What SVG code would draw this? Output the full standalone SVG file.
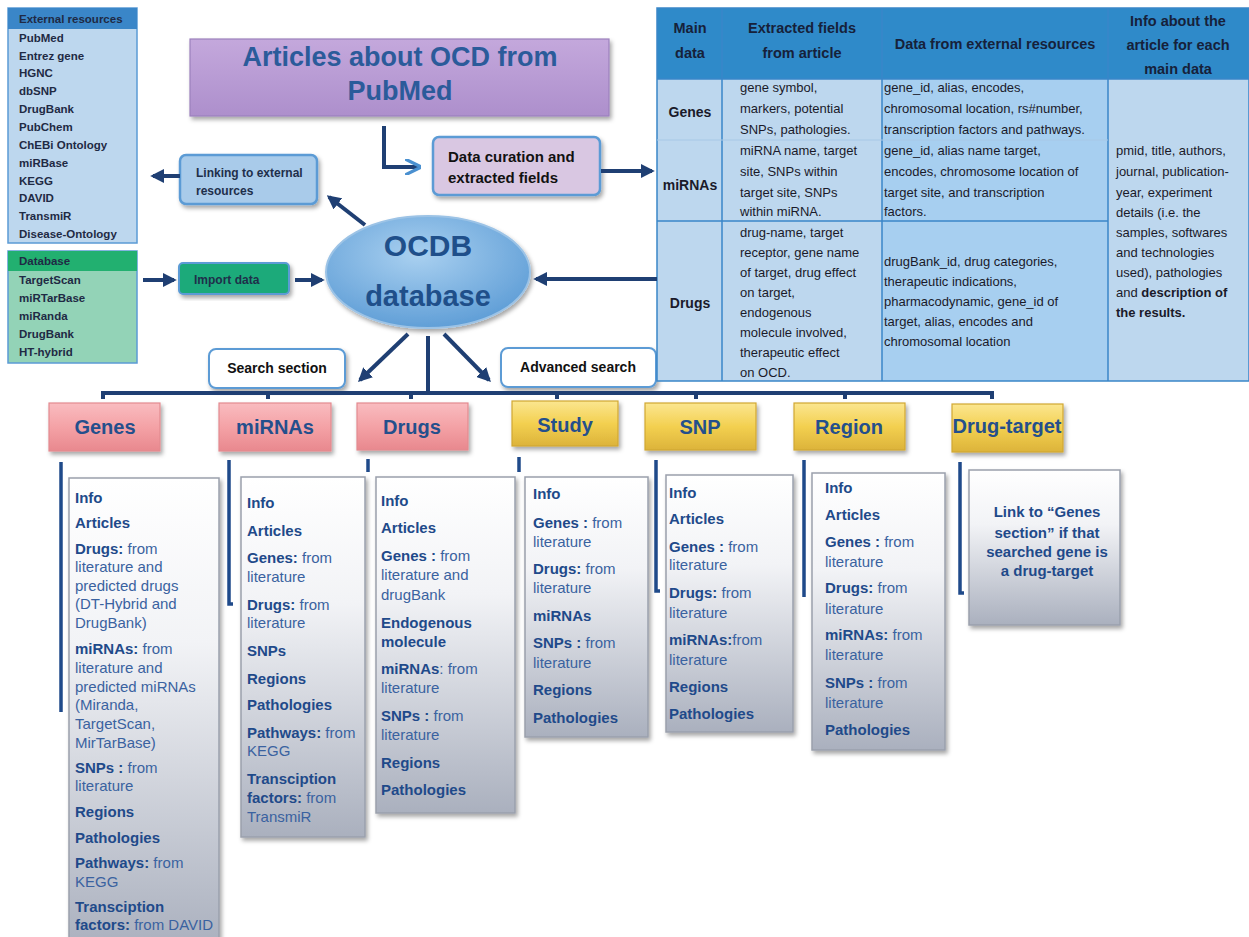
<svg xmlns="http://www.w3.org/2000/svg" width="1249" height="937" viewBox="0 0 1249 937">
<defs>
<style>
text{font-family:"Liberation Sans",Arial,sans-serif}
.side{font-size:11.5px;font-weight:bold;fill:#1f2a44}
.th{font-size:14.5px;font-weight:bold;fill:#16213a;text-anchor:middle}
.tb{font-size:13px;fill:#1a1a2a}
.tl{font-size:14px;font-weight:bold;fill:#1a1a2a;text-anchor:middle}
.cat{font-size:20px;font-weight:bold;fill:#244f8c;text-anchor:middle}
.d{font-size:15px;fill:#3a62a0}
.d .b,.b{font-weight:bold;fill:#1f4a8a}
.dbox{fill:url(#gGray);stroke:#9aa0ac;stroke-width:1.5;filter:url(#sh)}
.vl{stroke:#1f4a8a;stroke-width:3.5;fill:none}
.con{stroke:#1f3f73;stroke-width:4;fill:none}
.pink{fill:url(#gPink);stroke:#e38a90;stroke-width:1.2;filter:url(#sh)}
.gold{fill:url(#gGold);stroke:#d1a732;stroke-width:1.2;filter:url(#sh)}
.btxt{font-size:12px;font-weight:bold;fill:#1f2f4a}
</style>
<filter id="sh" x="-10%" y="-10%" width="130%" height="130%"><feDropShadow dx="2" dy="3" stdDeviation="2" flood-color="#000" flood-opacity="0.35"/></filter>
<linearGradient id="gGray" x1="0" y1="0" x2="0" y2="1"><stop offset="0" stop-color="#ffffff"/><stop offset="0.35" stop-color="#f2f3f6"/><stop offset="1" stop-color="#aab0be"/></linearGradient>
<linearGradient id="gPink" x1="0" y1="0" x2="0" y2="1"><stop offset="0" stop-color="#f9bcc0"/><stop offset="0.5" stop-color="#f4a2a6"/><stop offset="1" stop-color="#e8888e"/></linearGradient>
<linearGradient id="gGold" x1="0" y1="0" x2="0" y2="1"><stop offset="0" stop-color="#fbe690"/><stop offset="0.5" stop-color="#f3d050"/><stop offset="1" stop-color="#dcb33a"/></linearGradient>
<linearGradient id="gPurple" x1="0" y1="0" x2="0" y2="1"><stop offset="0" stop-color="#c4a8dc"/><stop offset="1" stop-color="#ad8fcc"/></linearGradient>
<radialGradient id="gEll" cx="0.45" cy="0.35" r="0.7"><stop offset="0" stop-color="#a9d0f0"/><stop offset="1" stop-color="#5b9bd5"/></radialGradient>
<marker id="ah" viewBox="0 0 10 10" refX="8" refY="5" markerWidth="3.5" markerHeight="3.5" orient="auto"><path d="M0,0 L10,5 L0,10 z" fill="#1f3f73"/></marker>
<marker id="ahl" viewBox="0 0 10 10" refX="8" refY="5" markerWidth="4" markerHeight="4" orient="auto"><path d="M0,0 L10,5 L0,10" fill="none" stroke="#4a90d0" stroke-width="2"/></marker>
</defs>
<rect width="1249" height="937" fill="#ffffff"/>

<g id="external-resources">
<rect x="8" y="8" width="129" height="235" fill="#bdd7ee" stroke="#5b9bd5" stroke-width="1.5"/>
<rect x="8" y="8" width="129" height="21" fill="#3a86c8"/>
<text class="side" x="19" y="23">External resources</text>
<text class="side" x="19" y="42">PubMed</text>
<text class="side" x="19" y="60">Entrez gene</text>
<text class="side" x="19" y="77">HGNC</text>
<text class="side" x="19" y="95">dbSNP</text>
<text class="side" x="19" y="113">DrugBank</text>
<text class="side" x="19" y="131">PubChem</text>
<text class="side" x="19" y="149">ChEBi Ontology</text>
<text class="side" x="19" y="167">miRBase</text>
<text class="side" x="19" y="185">KEGG</text>
<text class="side" x="19" y="202">DAVID</text>
<text class="side" x="19" y="220">TransmiR</text>
<text class="side" x="19" y="238">Disease-Ontology</text>
</g>

<g id="database-list">
<rect x="8" y="251" width="129" height="112" fill="#93d3b7" stroke="#5b9bd5" stroke-width="1.5"/>
<rect x="8" y="251" width="129" height="20" fill="#22b070"/>
<text class="side" x="19" y="265">Database</text>
<text class="side" x="19" y="284">TargetScan</text>
<text class="side" x="19" y="302">miRTarBase</text>
<text class="side" x="19" y="320">miRanda</text>
<text class="side" x="19" y="338">DrugBank</text>
<text class="side" x="19" y="356">HT-hybrid</text>
</g>

<g id="articles">
<rect x="190" y="39" width="419" height="77" fill="url(#gPurple)" stroke="#9c80bc" stroke-width="1.2" filter="url(#sh)"/>
<text x="400" y="66" font-size="27" font-weight="bold" fill="#2b5b9a" text-anchor="middle">Articles about OCD from</text>
<text x="400" y="100" font-size="27" font-weight="bold" fill="#2b5b9a" text-anchor="middle">PubMed</text>
</g>

<g id="data-curation">
<rect x="433" y="137" width="167" height="58" rx="6" fill="#d9c7e2" stroke="#5b9bd5" stroke-width="2.5" filter="url(#sh)"/>
<text x="448" y="162" font-size="15" font-weight="bold" fill="#111">Data curation and</text>
<text x="448" y="183" font-size="15" font-weight="bold" fill="#111">extracted fields</text>
</g>

<g id="linking">
<rect x="180" y="155" width="137" height="49" rx="6" fill="#a9cbea" stroke="#5b9bd5" stroke-width="2.5" filter="url(#sh)"/>
<text class="btxt" x="196" y="177">Linking to external</text>
<text class="btxt" x="196" y="195">resources</text>
</g>

<g id="import-data">
<rect x="179" y="263" width="110" height="31" rx="4" fill="#1faa7a" stroke="#5b9bd5" stroke-width="2" filter="url(#sh)"/>
<text class="btxt" x="194" y="284">Import data</text>
</g>

<g id="ocdb">
<ellipse cx="428" cy="272" rx="102" ry="56" fill="url(#gEll)" stroke="#9cc3e6" stroke-width="2" filter="url(#sh)"/>
<text x="428" y="256" font-size="30" font-weight="bold" fill="#1f4f8a" text-anchor="middle">OCDB</text>
<text x="428" y="306" font-size="29" font-weight="bold" fill="#1f4f8a" text-anchor="middle">database</text>
</g>

<g id="search-section">
<rect x="209" y="349" width="136" height="39" rx="7" fill="#fff" stroke="#5b9bd5" stroke-width="2" filter="url(#sh)"/>
<text x="277" y="373" font-size="14" font-weight="bold" fill="#111" text-anchor="middle">Search section</text>
</g>

<g id="advanced-search">
<rect x="501" y="348" width="155" height="39" rx="7" fill="#fff" stroke="#5b9bd5" stroke-width="2" filter="url(#sh)"/>
<text x="578" y="372" font-size="14" font-weight="bold" fill="#111" text-anchor="middle">Advanced search</text>
</g>

<g id="table">
<rect x="657" y="8" width="592" height="71" fill="#2f8ac9"/>
<rect x="657" y="79" width="225" height="302" fill="#bdd7ee"/>
<rect x="882" y="79" width="226" height="302" fill="#a7cff0"/>
<rect x="1108" y="79" width="141" height="302" fill="#bdd7ee"/>
<g stroke="#3a86c8" stroke-width="1.5" fill="none">
<rect x="657" y="8" width="592" height="373"/>
<line x1="722" y1="8" x2="722" y2="381"/>
<line x1="882" y1="8" x2="882" y2="381"/>
<line x1="1108" y1="8" x2="1108" y2="381"/>
<line x1="657" y1="79" x2="1249" y2="79"/>
<line x1="657" y1="221" x2="1108" y2="221"/>
<line x1="657" y1="140" x2="1108" y2="140" stroke="#a7c8e6" stroke-width="1"/>
</g>
<text class="th" x="690" y="33">Main</text>
<text class="th" x="690" y="58">data</text>
<text class="th" x="802" y="33">Extracted fields</text>
<text class="th" x="802" y="58">from article</text>
<text class="th" x="995" y="49">Data from external resources</text>
<text class="th" x="1178" y="26">Info about the</text>
<text class="th" x="1178" y="50">article for each</text>
<text class="th" x="1178" y="74">main data</text>
<text class="tl" x="690" y="117">Genes</text>
<text class="tl" x="690" y="190" font-size="12">miRNAs</text>
<text class="tl" x="690" y="308">Drugs</text>
<g class="tb">
<text class="tb" x="740" y="92">gene symbol,</text>
<text class="tb" x="740" y="113">markers, potential</text>
<text class="tb" x="740" y="134">SNPs, pathologies.</text>
<text class="tb" x="740" y="155">miRNA name, target</text>
<text class="tb" x="740" y="176">site, SNPs within</text>
<text class="tb" x="740" y="197">target site, SNPs</text>
<text class="tb" x="740" y="216">within miRNA.</text>
<text class="tb" x="740" y="237">drug-name, target</text>
<text class="tb" x="740" y="257">receptor, gene name</text>
<text class="tb" x="740" y="277">of target, drug effect</text>
<text class="tb" x="740" y="297">on target,</text>
<text class="tb" x="740" y="317">endogenous</text>
<text class="tb" x="740" y="337">molecule involved,</text>
<text class="tb" x="740" y="357">therapeutic effect</text>
<text class="tb" x="740" y="377">on OCD.</text>
<text class="tb" x="884" y="92">gene_id, alias, encodes,</text>
<text class="tb" x="884" y="113">chromosomal location, rs#number,</text>
<text class="tb" x="884" y="134">transcription factors and pathways.</text>
<text class="tb" x="884" y="155">gene_id, alias name target,</text>
<text class="tb" x="884" y="176">encodes, chromosome location of</text>
<text class="tb" x="884" y="197">target site, and transcription</text>
<text class="tb" x="884" y="216">factors.</text>
<text class="tb" x="884" y="266">drugBank_id, drug categories,</text>
<text class="tb" x="884" y="286">therapeutic indications,</text>
<text class="tb" x="884" y="306">pharmacodynamic, gene_id of</text>
<text class="tb" x="884" y="326">target, alias, encodes and</text>
<text class="tb" x="884" y="346">chromosomal location</text>
<text class="tb" x="1116" y="155">pmid, title, authors,</text>
<text class="tb" x="1116" y="176">journal, publication-</text>
<text class="tb" x="1116" y="197">year, experiment</text>
<text class="tb" x="1116" y="217">details (i.e. the</text>
<text class="tb" x="1116" y="237">samples, softwares</text>
<text class="tb" x="1116" y="257">and technologies</text>
<text class="tb" x="1116" y="277">used), pathologies</text>
<text class="tb" x="1116" y="297">and <tspan font-weight="bold">description of</tspan></text>
<text class="tb" x="1116" y="317" font-weight="bold">the results.</text>
</g>
</g>

<g id="connectors">
<path class="con" d="M384,126 V167 H418" stroke="#4a90d0" stroke-width="3" marker-end="url(#ahl)"/>
<line class="con" x1="601" y1="171" x2="652" y2="171" marker-end="url(#ah)"/>
<line class="con" x1="657" y1="279" x2="536" y2="279" marker-end="url(#ah)"/>
<line class="con" x1="180" y1="176" x2="153" y2="176" marker-end="url(#ah)"/>
<line class="con" x1="365" y1="225" x2="329" y2="197" marker-end="url(#ah)"/>
<line class="con" x1="143" y1="280" x2="174" y2="280" marker-end="url(#ah)"/>
<line class="con" x1="295" y1="280" x2="322" y2="280" marker-end="url(#ah)"/>
<line class="con" x1="408" y1="334" x2="360" y2="380" marker-end="url(#ah)"/>
<line class="con" x1="444" y1="334" x2="489" y2="380" marker-end="url(#ah)"/>
<line class="con" x1="428" y1="336" x2="428" y2="393"/>
<path class="con" d="M103,399 V393 H992 V399" stroke-width="3"/>
<g class="con" stroke-width="3">
<line x1="268" y1="393" x2="268" y2="399"/>
<line x1="411" y1="393" x2="411" y2="399"/>
<line x1="557" y1="393" x2="557" y2="399"/>
<line x1="696" y1="393" x2="696" y2="399"/>
<line x1="845" y1="393" x2="845" y2="399"/>
</g>
<line class="vl" x1="61" y1="462" x2="61" y2="712"/>
<path class="vl" d="M229,460 V604 H233"/>
<line class="vl" x1="368" y1="459" x2="368" y2="472"/>
<line class="vl" x1="519" y1="457" x2="519" y2="472"/>
<path class="vl" d="M656,460 V591 H660"/>
<line class="vl" x1="804" y1="460" x2="804" y2="597"/>
<path class="vl" d="M960,462 V593 H964"/>
</g>

<g id="genes">
<rect class="pink" x="49" y="403" width="111" height="48"/>
<text class="cat" x="105" y="434">Genes</text>
<rect class="dbox" x="69" y="478" width="150" height="470"/>
<g class="d">
<text class="d" x="75" y="503"><tspan class="b">Info</tspan></text>
<text class="d" x="75" y="528"><tspan class="b">Articles</tspan></text>
<text class="d" x="75" y="554"><tspan class="b">Drugs:</tspan> from</text>
<text class="d" x="75" y="572">literature and</text>
<text class="d" x="75" y="591">predicted drugs</text>
<text class="d" x="75" y="609">(DT-Hybrid and</text>
<text class="d" x="75" y="628">DrugBank)</text>
<text class="d" x="75" y="654"><tspan class="b">miRNAs:</tspan> from</text>
<text class="d" x="75" y="673">literature and</text>
<text class="d" x="75" y="692">predicted miRNAs</text>
<text class="d" x="75" y="710">(Miranda,</text>
<text class="d" x="75" y="729">TargetScan,</text>
<text class="d" x="75" y="748">MirTarBase)</text>
<text class="d" x="75" y="773"><tspan class="b">SNPs :</tspan> from</text>
<text class="d" x="75" y="791">literature</text>
<text class="d" x="75" y="817"><tspan class="b">Regions</tspan></text>
<text class="d" x="75" y="843"><tspan class="b">Pathologies</tspan></text>
<text class="d" x="75" y="868"><tspan class="b">Pathways:</tspan> from</text>
<text class="d" x="75" y="887">KEGG</text>
<text class="d" x="75" y="912"><tspan class="b">Transciption</tspan></text>
<text class="d" x="75" y="930"><tspan class="b">factors:</tspan> from DAVID</text>
</g>
</g>

<g id="mirnas">
<rect class="pink" x="219" y="403" width="112" height="48"/>
<text class="cat" x="275" y="434">miRNAs</text>
<rect class="dbox" x="241" y="477" width="124" height="360"/>
<text class="d" x="247" y="508"><tspan class="b">Info</tspan></text>
<text class="d" x="247" y="536"><tspan class="b">Articles</tspan></text>
<text class="d" x="247" y="563"><tspan class="b">Genes:</tspan> from</text>
<text class="d" x="247" y="582">literature</text>
<text class="d" x="247" y="610"><tspan class="b">Drugs:</tspan> from</text>
<text class="d" x="247" y="628">literature</text>
<text class="d" x="247" y="656"><tspan class="b">SNPs</tspan></text>
<text class="d" x="247" y="684"><tspan class="b">Regions</tspan></text>
<text class="d" x="247" y="710"><tspan class="b">Pathologies</tspan></text>
<text class="d" x="247" y="738"><tspan class="b">Pathways:</tspan> from</text>
<text class="d" x="247" y="756">KEGG</text>
<text class="d" x="247" y="784"><tspan class="b">Transciption</tspan></text>
<text class="d" x="247" y="803"><tspan class="b">factors:</tspan> from</text>
<text class="d" x="247" y="822">TransmiR</text>
</g>

<g id="drugs">
<rect class="pink" x="357" y="403" width="111" height="47"/>
<text class="cat" x="412" y="434">Drugs</text>
<rect class="dbox" x="376" y="477" width="139" height="336"/>
<text class="d" x="381" y="506"><tspan class="b">Info</tspan></text>
<text class="d" x="381" y="533"><tspan class="b">Articles</tspan></text>
<text class="d" x="381" y="561"><tspan class="b">Genes :</tspan> from</text>
<text class="d" x="381" y="580">literature and</text>
<text class="d" x="381" y="600">drugBank</text>
<text class="d" x="381" y="628"><tspan class="b">Endogenous</tspan></text>
<text class="d" x="381" y="647"><tspan class="b">molecule</tspan></text>
<text class="d" x="381" y="674"><tspan class="b">miRNAs</tspan>: from</text>
<text class="d" x="381" y="693">literature</text>
<text class="d" x="381" y="721"><tspan class="b">SNPs :</tspan> from</text>
<text class="d" x="381" y="740">literature</text>
<text class="d" x="381" y="768"><tspan class="b">Regions</tspan></text>
<text class="d" x="381" y="795"><tspan class="b">Pathologies</tspan></text>
</g>

<g id="study">
<rect class="gold" x="512" y="401" width="106" height="45"/>
<text class="cat" x="565" y="432">Study</text>
<rect class="dbox" x="525" y="477" width="123" height="260"/>
<text class="d" x="533" y="499"><tspan class="b">Info</tspan></text>
<text class="d" x="533" y="528"><tspan class="b">Genes :</tspan> from</text>
<text class="d" x="533" y="547">literature</text>
<text class="d" x="533" y="574"><tspan class="b">Drugs:</tspan> from</text>
<text class="d" x="533" y="593">literature</text>
<text class="d" x="533" y="621"><tspan class="b">miRNAs</tspan></text>
<text class="d" x="533" y="648"><tspan class="b">SNPs :</tspan> from</text>
<text class="d" x="533" y="668">literature</text>
<text class="d" x="533" y="695"><tspan class="b">Regions</tspan></text>
<text class="d" x="533" y="723"><tspan class="b">Pathologies</tspan></text>
</g>

<g id="snp">
<rect class="gold" x="645" y="403" width="111" height="47"/>
<text class="cat" x="700" y="434">SNP</text>
<rect class="dbox" x="666" y="475" width="127" height="257"/>
<text class="d" x="669" y="498"><tspan class="b">Info</tspan></text>
<text class="d" x="669" y="524"><tspan class="b">Articles</tspan></text>
<text class="d" x="669" y="552"><tspan class="b">Genes :</tspan> from</text>
<text class="d" x="669" y="570">literature</text>
<text class="d" x="669" y="598"><tspan class="b">Drugs:</tspan> from</text>
<text class="d" x="669" y="618">literature</text>
<text class="d" x="669" y="645"><tspan class="b">miRNAs:</tspan>from</text>
<text class="d" x="669" y="665">literature</text>
<text class="d" x="669" y="692"><tspan class="b">Regions</tspan></text>
<text class="d" x="669" y="719"><tspan class="b">Pathologies</tspan></text>
</g>

<g id="region">
<rect class="gold" x="794" y="403" width="111" height="47"/>
<text class="cat" x="849" y="434">Region</text>
<rect class="dbox" x="812" y="473" width="133" height="277"/>
<text class="d" x="825" y="493"><tspan class="b">Info</tspan></text>
<text class="d" x="825" y="520"><tspan class="b">Articles</tspan></text>
<text class="d" x="825" y="547"><tspan class="b">Genes :</tspan> from</text>
<text class="d" x="825" y="567">literature</text>
<text class="d" x="825" y="593"><tspan class="b">Drugs:</tspan> from</text>
<text class="d" x="825" y="614">literature</text>
<text class="d" x="825" y="640"><tspan class="b">miRNAs:</tspan> from</text>
<text class="d" x="825" y="660">literature</text>
<text class="d" x="825" y="688"><tspan class="b">SNPs :</tspan> from</text>
<text class="d" x="825" y="708">literature</text>
<text class="d" x="825" y="735"><tspan class="b">Pathologies</tspan></text>
</g>

<g id="drug-target">
<rect class="gold" x="952" y="404" width="111" height="48"/>
<text class="cat" x="1007" y="433" font-size="18">Drug-target</text>
<rect class="dbox" x="969" y="470" width="151" height="155"/>
<text class="d b" x="1047" y="517" text-anchor="middle">Link to “Genes</text>
<text class="d b" x="1047" y="538" text-anchor="middle">section” if that</text>
<text class="d b" x="1047" y="557" text-anchor="middle">searched gene is</text>
<text class="d b" x="1047" y="576" text-anchor="middle">a drug-target</text>
</g>
</svg>
